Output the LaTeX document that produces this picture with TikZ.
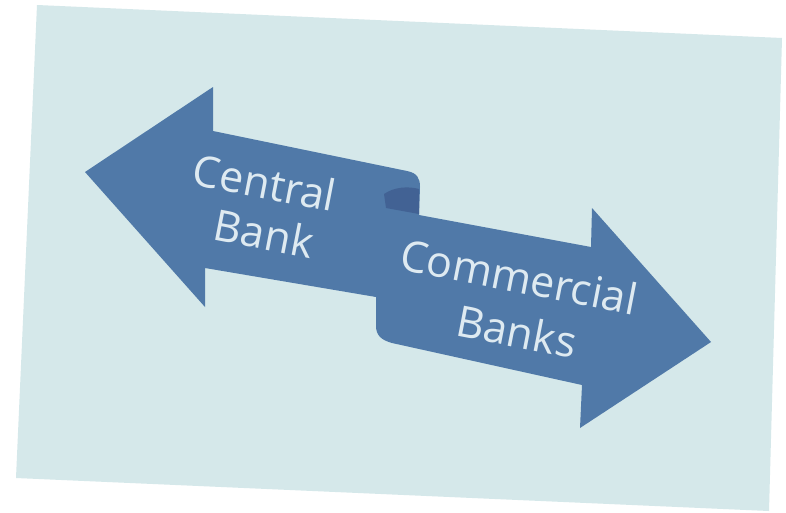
\documentclass[tikz,border=0pt]{standalone}
\usepackage{fontspec}
\setmainfont{Open Sans}
\definecolor{bgc}{RGB}{213,232,234}
\definecolor{arrowc}{RGB}{80,121,168}
\definecolor{foldc}{RGB}{66,98,148}
\definecolor{txtc}{RGB}{222,234,241}
\begin{document}
\begin{tikzpicture}[x=1pt,y=-1pt,
  lbl/.style={text=txtc, inner sep=0pt, rotate=-11, align=center}]
\useasboundingbox (0,0) rectangle (786,512);
\fill[white] (0,0) rectangle (786,512);
\fill[bgc] (37,5) -- (782,38) -- (769,511) -- (16,478) -- cycle;
\fill[arrowc] (85,172) -- (213,87) -- (213,131) -- (407,171)
  .. controls (417,173) and (420,178) .. (420,187) -- (419,215)
  -- (591,247) -- (592,208) -- (711,342) -- (580,428) -- (582,385)
  -- (392,343) .. controls (381,340) and (376,335) .. (376,326)
  -- (376,297) -- (205,268) -- (205,307) -- cycle;
\fill[foldc] (384,194) .. controls (394,187) and (408,186) .. (419,189)
  -- (419,214) -- (386,208) -- cycle;
\node[lbl, font=\fontsize{43}{50}\selectfont] (cb) at (260,207)
  {Central\\\hspace*{18pt}Bank};
\node[lbl, font=\fontsize{43}{54}\selectfont] (cm) at (514,303)
  {Commercial\\\hspace*{16pt}Banks};
\end{tikzpicture}
\end{document}
